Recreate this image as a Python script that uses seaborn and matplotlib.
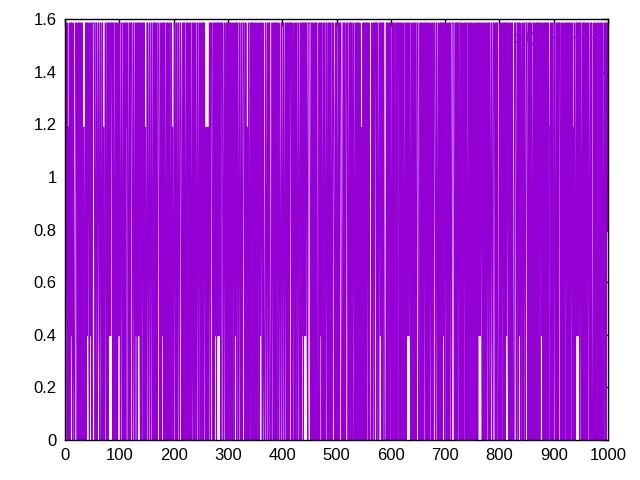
import numpy as np
import pandas as pd
import matplotlib
matplotlib.use("Agg")
import matplotlib.pyplot as plt
from matplotlib.ticker import FormatStrFormatter
import seaborn as sns

codes = [
    "4004403040 4141041004 4400404404 0040330040 4144104140 0444400440 1441044004 0300440040 4414144404 0044040041",
    "4400440040 0404340044 0444004400 4140441410 4004404030 0440044004 4004040440 0444004004 1404400404 0040044030",
    "0440040044 0044300440 4004404004 0440041040 4400440044 0040404400 3003004404 4400404140 4141414044 4004400404",
    "0404404004 4004140440 0440040044 4004030040 0440440400 4040044004 1440041004 4004404400 0440040440 4400430044",
    "0044004404 4040444040 0340044004 4004404140 4141441044 4400404004 0404400040 4140044040 0440040404 4004430040",
    "4400404440 0044040044 4004404041 0440040440 4004303004 0440404400 4000040044 0444044004 4140404400 0040440404",
    "4004040440 0440444040 4004004404 4141441040 0404040044 4000404004 0440040440 4034004004 4400440040 0404404140",
    "0440040404 4004444004 0440440040 4104004404 0044040440 4004304004 0441414400 4004040044 0440144004 4400404400",
    "0404004404 4041441040 0440400044 4004404140 0340044004 4400404404 0044040040 4404004414 0040440404 4033404040",
    "0440040404 4400404004 0044040440 4004403040 0441414404 4104044040 0404400440 4000404004 0440040440 4004404042",
]
level_values = [0.0, 0.396, 0.792, 1.189, 1.585]
series_label = "c(t)"

digits = "".join(codes).replace(" ", "")
y = [level_values[int(c)] for c in digits]
df = pd.DataFrame({"t": np.arange(len(y)), "value": y})

sns.set_style("white")
plt.rcParams["font.family"] = ["Liberation Sans", "DejaVu Sans"]

fig = plt.figure(figsize=(6.4, 4.8), dpi=100)
ax = fig.add_axes([65 / 640, 40 / 480, 543 / 640, 421 / 480])

sns.lineplot(data=df, x="t", y="value", color="#9400D3", linewidth=0.85,
             label=series_label, ax=ax, zorder=3)

ax.set_xlim(0, 1000)
ax.set_ylim(0, 1.6)
ax.set_xticks(np.arange(0, 1001, 100))
ax.set_yticks(np.arange(0, 1.61, 0.2))
ax.yaxis.set_major_formatter(FormatStrFormatter("%g"))
ax.tick_params(direction="in", length=5, width=1, top=True, right=True,
               labelsize=12, colors="black", pad=6)
ax.set_xlabel("")
ax.set_ylabel("")
for s in ax.spines.values():
    s.set_color("black")
    s.set_linewidth(1)
    s.set_zorder(5)

leg = ax.legend(loc="upper right", frameon=False, markerfirst=False,
                fontsize=12, handlelength=2.8, borderaxespad=0.3)
leg.set_zorder(1)

fig.savefig("out.png", dpi=100)
